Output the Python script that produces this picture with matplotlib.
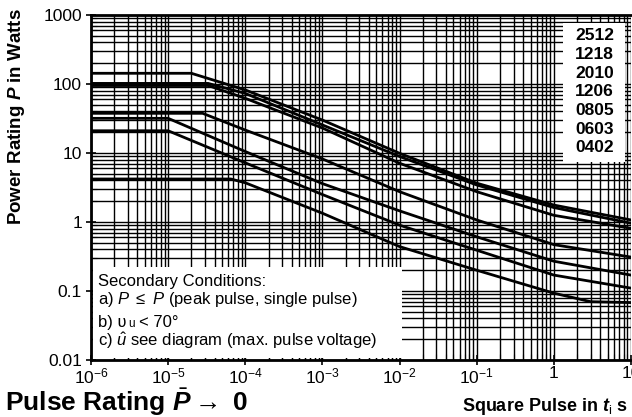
import matplotlib
matplotlib.use("Agg")
import matplotlib.pyplot as plt
from matplotlib.ticker import FixedLocator, LogLocator, NullFormatter
import numpy as np

plt.rcParams['font.family'] = ['Liberation Sans', 'DejaVu Sans']
plt.rcParams['mathtext.fontset'] = 'custom'
plt.rcParams['mathtext.rm'] = 'Liberation Sans'
plt.rcParams['mathtext.it'] = 'Liberation Sans:italic'
plt.rcParams['mathtext.bf'] = 'Liberation Sans:bold:italic'

# ---- data (pulse duration in s, power in W) ----
sizes = ["2512", "1218", "2010", "1206", "0805", "0603", "0402"]

t_2512 = [1e-6, 2.0e-5, 1e-4, 1e-3, 1e-2, 1e-1, 1, 10]
p_2512 = [143, 143, 82, 30, 9.9, 3.65, 1.76, 1.07]

t_1218 = [1e-6, 3.3e-5, 1e-4, 1e-3, 1e-2, 1e-1, 1, 10]
p_1218 = [102, 102, 73, 25.5, 8.9, 3.44, 1.62, 0.96]

t_2010 = [1e-6, 3.3e-5, 1e-4, 1e-3, 1e-2, 1e-1, 1, 10]
p_2010 = [95, 95, 62, 23, 7.1, 2.75, 1.25, 0.81]

t_1206 = [1e-6, 2.8e-5, 1e-4, 1e-3, 1e-2, 1e-1, 1, 10]
p_1206 = [37.6, 37.6, 21.5, 8.2, 2.75, 1.07, 0.47, 0.31]

t_0805 = [1e-6, 1.0e-5, 1e-4, 1e-3, 1e-2, 1e-1, 1, 10]
p_0805 = [31.8, 31.8, 10.5, 3.6, 1.45, 0.61, 0.27, 0.17]

t_0603 = [1e-6, 1.0e-5, 1e-4, 1e-3, 1e-2, 1e-1, 1, 10]
p_0603 = [21, 21, 7.2, 2.5, 0.9, 0.39, 0.17, 0.11]

t_0402 = [1e-6, 6.5e-5, 1e-4, 1e-3, 1e-2, 1e-1, 1, 3, 10]
p_0402 = [4.2, 4.2, 3.7, 1.34, 0.44, 0.20, 0.093, 0.07, 0.068]

series = [(t_2512, p_2512), (t_1218, p_1218), (t_2010, p_2010), (t_1206, p_1206),
          (t_0805, p_0805), (t_0603, p_0603), (t_0402, p_0402)]

x_ticks = [1e-6, 1e-5, 1e-4, 1e-3, 1e-2, 1e-1, 1, 10]
x_labels = [r"$10^{-6}$", r"$10^{-5}$", r"$10^{-4}$", r"$10^{-3}$", r"$10^{-2}$",
            r"$10^{-1}$", "1", "10"]
y_ticks = [0.01, 0.1, 1, 10, 100, 1000]
y_labels = ["0.01", "0.1", "1", "10", "100", "1000"]

W, H = 632, 417
fig = plt.figure(figsize=(W / 100, H / 100), dpi=100)
ax = fig.add_axes([91 / W, 1 - 360 / H, (631 - 91) / W, (360 - 15) / H])
ax.set_xscale("log")
ax.set_yscale("log")
ax.set_xlim(1e-6, 10)
ax.set_ylim(0.01, 1000)

ax.xaxis.set_major_locator(FixedLocator(x_ticks))
ax.set_xticklabels(x_labels)
ax.xaxis.set_minor_locator(LogLocator(base=10, subs=np.arange(2, 10), numticks=20))
ax.xaxis.set_minor_formatter(NullFormatter())
ax.yaxis.set_major_locator(FixedLocator(y_ticks))
ax.set_yticklabels(y_labels)
ax.yaxis.set_minor_locator(LogLocator(base=10, subs=np.arange(2, 10), numticks=20))
ax.yaxis.set_minor_formatter(NullFormatter())

ax.grid(True, which="both", color="black", lw=1.0, zorder=0)
ax.set_axisbelow(True)

ax.tick_params(which="major", direction="inout", length=7, width=1.2, labelsize=12.5)
ax.tick_params(axis="y", which="major", pad=3)
ax.tick_params(axis="x", which="major", pad=1)
ax.tick_params(which="minor", direction="in", length=4, width=0.8)
for s in ["left", "bottom", "top"]:
    ax.spines[s].set_linewidth(2)
ax.spines["right"].set_visible(False)

for t, p in series:
    ax.plot(t, p, color="black", lw=2.0, zorder=3, solid_joinstyle="round")


def px(x, y):
    return (x / W, 1 - y / H)


# size labels box
box = plt.Rectangle(px(563, 162), (625 - 563) / W, (162 - 23) / H, transform=fig.transFigure,
                    facecolor="white", edgecolor="none", zorder=5)
fig.add_artist(box)
for i, s in enumerate(sizes):
    fig.text(*px(614, 36 + i * 18.6), s, ha="right", va="center", fontsize=12.5,
             fontweight="bold", zorder=6)

# secondary conditions box
box2 = plt.Rectangle(px(93, 358), (402 - 93) / W, (358 - 267) / H, transform=fig.transFigure,
                     facecolor="white", edgecolor="none", zorder=5)
fig.add_artist(box2)
fs = 12
fig.text(*px(98, 286), "Secondary Conditions:", fontsize=fs, va="baseline", zorder=6)
fig.text(*px(98, 304), r"a) $P$ $\leq$ $P$ (peak pulse, single pulse)", fontsize=fs,
         va="baseline", zorder=6)

# b) line built from pieces so the small "u" sits on the baseline
renderer = fig.canvas.get_renderer()
tb1 = fig.text(*px(98, 327), "b) \u028b", fontsize=fs, va="baseline", zorder=6)
x_end = tb1.get_window_extent(renderer).x1
tb2 = fig.text((x_end + 2) / W, 1 - 327 / H, "u", fontsize=8.5, va="baseline", zorder=6)
x_end2 = tb2.get_window_extent(renderer).x1
fig.text((x_end2 + 4) / W, 1 - 327 / H, "< 70°", fontsize=fs, va="baseline", zorder=6)

fig.text(*px(98, 346), r"c) $\hat{u}$ see diagram (max. pulse voltage)", fontsize=fs,
         va="baseline", zorder=6)

# axis labels
fig.text(17 / W, 1 - 117 / H, r"Power Rating $\mathbf{P}$ in Watts", rotation=90,
         ha="center", va="center", fontsize=13.5, fontweight="bold")
fig.text(*px(5, 411), r"Pulse Rating $\bar{\mathbf{P}}\rightarrow$ 0", fontsize=19,
         fontweight="bold", va="baseline")
fig.text(*px(462, 411), r"Square Pulse in $\mathbf{t}_{\mathrm{i}}$ s", fontsize=13,
         fontweight="bold", va="baseline")

fig.savefig("out.png", dpi=100)
